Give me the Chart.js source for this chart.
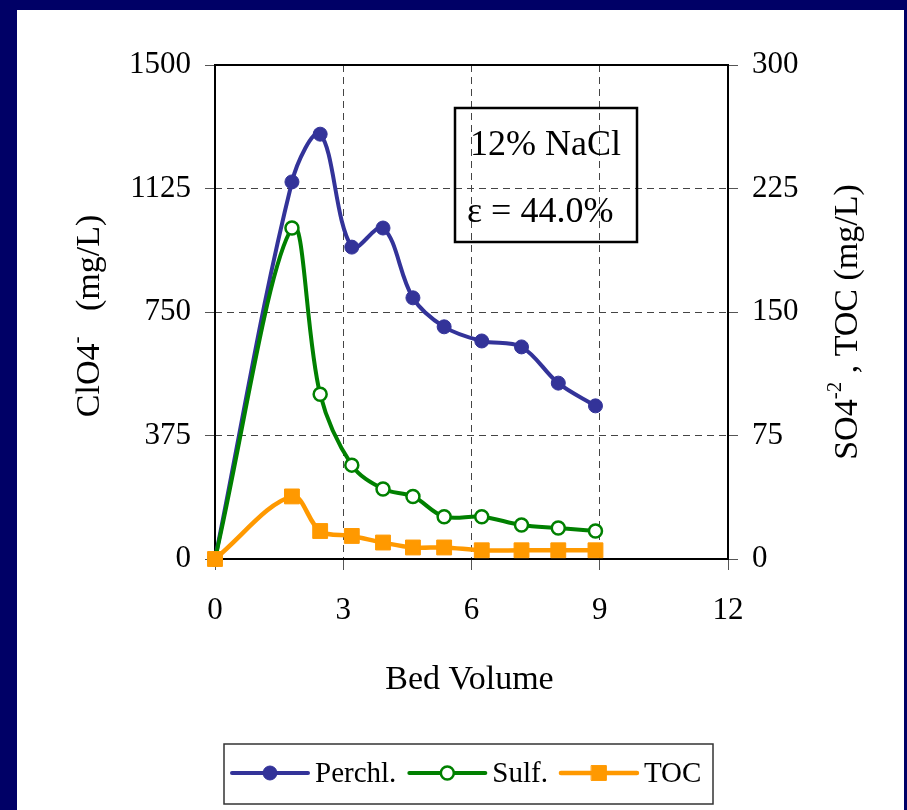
<!DOCTYPE html>
<html>
<head>
<meta charset="utf-8">
<script src="https://cdn.jsdelivr.net/npm/chart.js@4"></script>
<style>
  html, body { margin: 0; padding: 0; background: #000066; }
  body { width: 907px; height: 810px; position: relative; overflow: hidden; }
  #panel { position: absolute; left: 17px; top: 10px; width: 887px; height: 800px; background: #fff; }
</style>
</head>
<body>
<div id="panel"><canvas id="bvChart" width="887" height="800"></canvas></div>
<script>
// bed volumes treated and effluent concentrations
const bedVolume = [0, 1.8, 2.46, 3.2, 3.93, 4.63, 5.36, 6.24, 7.17, 8.03, 8.9];
const perchlorate = [0, 1145, 1290, 947, 1005, 793, 705, 662, 644, 534, 465];  // mg/L, left axis
const sulfate = [0, 201, 100, 57, 42.5, 38, 25.7, 25.7, 20.6, 18.8, 17];      // mg/L, right axis
const toc = [0, 38, 17, 14, 10, 7, 7, 5.3, 5.3, 5.3, 5.3];                    // mg/L, right axis

const xTicks = [0, 3, 6, 9, 12];
const leftTicks = [0, 375, 750, 1125, 1500];
const rightTicks = [0, 75, 150, 225, 300];

const SERIF = "'Liberation Serif', 'Times New Roman', serif";
Chart.defaults.font.family = SERIF;
Chart.defaults.color = "#000";

const pts = (ys) => bedVolume.map((x, i) => ({ x: x, y: ys[i] }));
const useTicks = (arr) => (scale) => { scale.ticks = arr.map(v => ({ value: v })); };
const innerGrid = (max) => (c) => (c.tick && c.tick.value > 0 && c.tick.value < max) ? "#444" : "rgba(0,0,0,0)";
const plain = (v) => String(v);

// rotated / plain titles with superscripts
function drawParts(ctx, parts, cx, cy, angle) {
  ctx.save();
  ctx.translate(cx, cy);
  ctx.rotate(angle);
  ctx.fillStyle = "#000";
  ctx.textBaseline = "middle";
  let total = 0;
  parts.forEach(p => { ctx.font = p.size + "px " + SERIF; p.w = ctx.measureText(p.text).width; total += p.w; });
  let x = -total / 2;
  parts.forEach(p => { ctx.font = p.size + "px " + SERIF; ctx.fillText(p.text, x, p.dy || 0); x += p.w; });
  ctx.restore();
}

const decorations = {
  id: "decorations",
  beforeDatasetsDraw(chart) {
    const { ctx, chartArea: a } = chart;
    ctx.save();
    ctx.strokeStyle = "#000";
    ctx.lineWidth = 2;
    ctx.strokeRect(a.left, a.top, a.right - a.left, a.bottom - a.top);
    ctx.restore();
  },
  afterDraw(chart) {
    const { ctx, chartArea: a } = chart;

    drawParts(ctx, [
      { text: "ClO4", size: 34 },
      { text: "-", size: 21, dy: -13 },
      { text: "   (mg/L)", size: 34 }
    ], 73, 306, -Math.PI / 2);

    drawParts(ctx, [
      { text: "SO4", size: 34 },
      { text: "-2", size: 21, dy: -13 },
      { text: " , TOC (mg/L)", size: 34 }
    ], 831, 312, -Math.PI / 2);

    drawParts(ctx, [{ text: "Bed Volume", size: 34 }], (a.left + a.right) / 2 - 2, 670, 0);

    // condition box
    ctx.save();
    ctx.strokeStyle = "#000";
    ctx.lineWidth = 2.5;
    ctx.strokeRect(438, 98, 182, 134);
    ctx.fillStyle = "#000";
    ctx.font = "36px " + SERIF;
    ctx.textBaseline = "alphabetic";
    ctx.fillText("12% NaCl", 453, 145);
    ctx.fillText("\u03b5 = 44.0%", 450, 212);
    ctx.restore();

    // legend
    ctx.save();
    ctx.strokeStyle = "#333";
    ctx.lineWidth = 1.5;
    ctx.strokeRect(207, 734, 489, 60);
    const ly = 763;
    let lx = 215;
    ctx.font = "29px " + SERIF;
    ctx.textBaseline = "middle";
    chart.data.datasets.forEach(ds => {
      ctx.strokeStyle = ds.borderColor;
      ctx.lineWidth = ds.borderWidth;
      ctx.lineCap = "round";
      ctx.beginPath();
      ctx.moveTo(lx, ly);
      ctx.lineTo(lx + 76, ly);
      ctx.stroke();
      const mx = lx + 38;
      ctx.fillStyle = ds.pointBackgroundColor;
      ctx.strokeStyle = ds.pointBorderColor;
      ctx.lineWidth = ds.pointBorderWidth;
      ctx.beginPath();
      if (ds.pointStyle === "rect") {
        const s = ds.pointRadius * Math.SQRT1_2;
        ctx.rect(mx - s, ly - s, 2 * s, 2 * s);
      } else {
        ctx.arc(mx, ly, ds.pointRadius, 0, Math.PI * 2);
      }
      ctx.fill();
      ctx.stroke();
      ctx.fillStyle = "#000";
      ctx.fillText(ds.label, lx + 83, ly + 1);
      lx += 83 + ctx.measureText(ds.label).width + 13;
    });
    ctx.restore();
  }
};

new Chart(document.getElementById("bvChart"), {
  type: "line",
  data: {
    datasets: [
      {
        label: "Perchl.",
        data: pts(perchlorate),
        yAxisID: "y",
        borderColor: "#333399",
        borderWidth: 4,
        pointStyle: "circle",
        pointRadius: 7,
        pointBackgroundColor: "#333399",
        pointBorderColor: "#333399",
        pointBorderWidth: 1,
        tension: 0.35,
        clip: false,
        order: 3
      },
      {
        label: "Sulf.",
        data: pts(sulfate),
        yAxisID: "y2",
        borderColor: "#008000",
        borderWidth: 4,
        pointStyle: "circle",
        pointRadius: 6.5,
        pointBackgroundColor: "#ffffff",
        pointBorderColor: "#008000",
        pointBorderWidth: 2.5,
        tension: 0.35,
        clip: false,
        order: 2
      },
      {
        label: "TOC",
        data: pts(toc),
        yAxisID: "y2",
        borderColor: "#ff9900",
        borderWidth: 4.5,
        pointStyle: "rect",
        pointRadius: 10.5,
        pointBackgroundColor: "#ff9900",
        pointBorderColor: "#ff9900",
        pointBorderWidth: 1,
        tension: 0.35,
        clip: false,
        order: 1
      }
    ]
  },
  options: {
    responsive: false,
    animation: false,
    devicePixelRatio: 1,
    layout: { padding: { top: 55, left: 0, right: 0, bottom: 0 } },
    plugins: { legend: { display: false }, tooltip: { enabled: false } },
    scales: {
      x: {
        type: "linear",
        min: 0, max: 12,
        afterBuildTicks: useTicks(xTicks),
        afterFit: (s) => { s.height = 251; },
        border: { display: false, dash: [7, 5] },
        grid: { color: innerGrid(12), lineWidth: 1, tickColor: "#555", tickLength: 11, tickBorderDash: [] },
        ticks: { font: { size: 31 }, padding: 22, maxRotation: 0, callback: plain }
      },
      y: {
        position: "left",
        min: 0, max: 1500,
        afterBuildTicks: useTicks(leftTicks),
        afterFit: (s) => { s.width = 198; },
        border: { display: false, dash: [7, 5] },
        grid: { color: innerGrid(1500), lineWidth: 1, tickColor: "#555", tickLength: 10, tickBorderDash: [] },
        ticks: { font: { size: 31 }, padding: 14, callback: plain }
      },
      y2: {
        position: "right",
        min: 0, max: 300,
        afterBuildTicks: useTicks(rightTicks),
        afterFit: (s) => { s.width = 176; },
        border: { display: false },
        grid: { drawOnChartArea: false, tickColor: "#555", tickLength: 10, tickBorderDash: [] },
        ticks: { font: { size: 31 }, padding: 14, callback: plain }
      }
    }
  },
  plugins: [decorations]
});
</script>
</body>
</html>
